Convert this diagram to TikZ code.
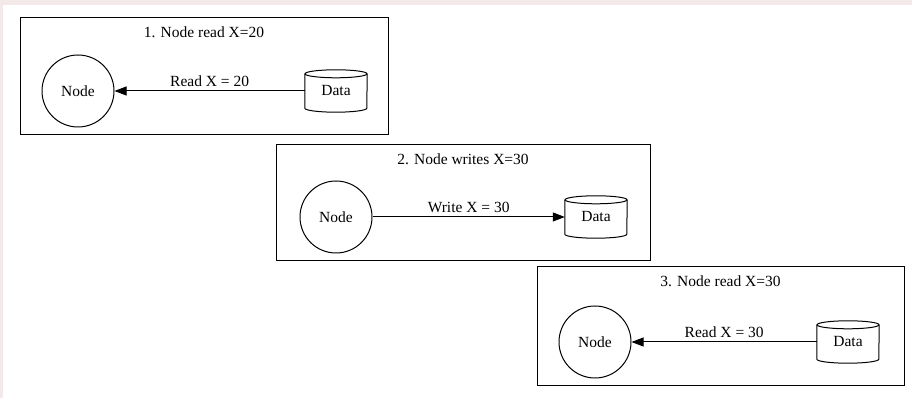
\documentclass[tikz,border=0pt]{standalone}
\usepackage{fontspec}
\setmainfont{Liberation Serif}
\usetikzlibrary{calc,arrows.meta}
\definecolor{edgepink}{RGB}{244,233,233}
\newcommand\txtfont{\fontsize{15.5}{18}\selectfont}
\tikzset{
  frame/.style={draw, line width=1pt, inner sep=0pt},
  title/.style={anchor=base, inner sep=0pt, font=\txtfont},
  proc/.style={draw, circle, minimum size=72pt, inner sep=0pt, line width=1pt, font=\txtfont},
  store/.style={minimum width=62pt, minimum height=42pt, inner sep=0pt, font=\txtfont},
  flow/.style={-{Triangle[length=12pt,width=9pt]}, line width=1pt},
  lbl/.style={above, inner sep=4pt, font=\txtfont}
}
% cylinder outline around a named store node
\newcommand\drawcyl[1]{%
  \draw[line width=1pt] ($(#1.north)+(0,-4)$) ellipse [x radius=31, y radius=4];
  \draw[line width=1pt] ($(#1.north west)+(0,-4)$) -- ($(#1.south west)+(0,4)$)
    arc [start angle=180, end angle=360, x radius=31, y radius=4]
    -- ($(#1.north east)+(0,-4)$);
}
\begin{document}
\begin{tikzpicture}[x=1pt,y=1pt]
  \fill[white] (0,0) rectangle (912,398);
  \fill[edgepink] (0,393) rectangle (912,398);
  \fill[edgepink] (0,0) rectangle (3,398);
  \useasboundingbox (0,0) rectangle (912,398);

  % step 1
  \node[frame, minimum width=368pt, minimum height=117pt] (b1) at (204,321.5) {};
  \node[title] (t1) at ($(b1.north)+(0,-20)$) {1. Node read X=20};
  \node[proc] (n1) at (78,307) {Node};
  \node[store] (d1) at (336,307) {Data};
  \drawcyl{d1}
  \draw[flow] (d1.west) -- node[lbl] {Read X = 20} (n1);

  % step 2
  \node[frame, minimum width=374pt, minimum height=116pt] (b2) at (463,195) {};
  \node[title] (t2) at ($(b2.north)+(0,-20)$) {2. Node writes X=30};
  \node[proc] (n2) at (336,181) {Node};
  \node[store] (d2) at (596,181) {Data};
  \drawcyl{d2}
  \draw[flow] (n2) -- node[lbl] {Write X = 30} (d2.west);

  % step 3
  \node[frame, minimum width=367pt, minimum height=119pt] (b3) at (720.5,71.5) {};
  \node[title] (t3) at ($(b3.north)+(0,-20)$) {3. Node read X=30};
  \node[proc] (n3) at (595,56) {Node};
  \node[store] (d3) at (848,56) {Data};
  \drawcyl{d3}
  \draw[flow] (d3.west) -- node[lbl] {Read X = 30} (n3);
\end{tikzpicture}
\end{document}
